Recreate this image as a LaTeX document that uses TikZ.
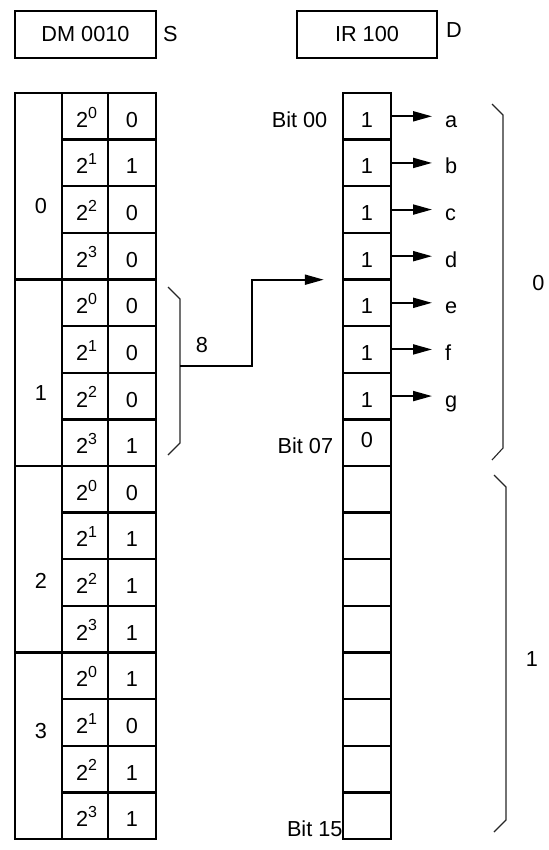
\documentclass[tikz,border=0pt]{standalone}
\usepackage{fontspec}
\setmainfont{Liberation Sans}
\usetikzlibrary{arrows.meta}
\newcommand\pw[1]{2\raisebox{9.2pt}{\fontsize{16}{16}\selectfont #1}}
\begin{document}
\begin{tikzpicture}[x=1pt,y=-1pt,
  every node/.style={font=\fontsize{21.7}{26}\selectfont, inner sep=0pt},
  topbox/.style={draw, line width=2pt, minimum height=47pt},
  cell/.style={draw, line width=2.4pt, minimum height=46.625pt, text height=22pt, text depth=0pt},
  grp/.style={draw, line width=2.4pt, minimum width=47pt, minimum height=186.5pt},
  brace/.style={line width=1.1pt, black!85},
  conn/.style={line width=2pt},
  arr/.style={line width=2pt, -{Triangle[length=19pt,width=10pt]}}]

\useasboundingbox (0,0) rectangle (548,850);

% top boxes
\node[topbox, minimum width=141pt] (dm) at (85.5,34.5) {DM 0010};
\node[anchor=base west] (s) at (163,41.7) {S};
\node[topbox, minimum width=140pt] (ir) at (367,34.5) {IR 100};
\node[anchor=base west] (d) at (446,37.7) {D};

% left table: exponent and value cells
\foreach \v [count=\i from 0] in {0,1,0,0,0,0,0,1,0,1,1,1,1,0,1,1} {
  \pgfmathtruncatemacro\e{mod(\i,4)}
  \node[cell, minimum width=46pt] (e\i) at (85, {93+46.625*(\i+0.5)}) {\hspace{3pt}\pw{\e}};
  \node[cell, minimum width=48pt] (v\i) at (132, {93+46.625*(\i+0.5)}) {\v};
}
% group cells
\foreach \g/\ly in {0/206,1/393,2/581,3/731} {
  \node[grp] (g\g) at (38.5, {93+186.5*(\g+0.5)}) {};
  \node[anchor=base] (gl\g) at (41, {\ly+7.8}) {\g};
}

% right column
\foreach \i in {0,...,6} {
  \node[cell, minimum width=48pt] (r\i) at (367, {93+46.625*(\i+0.5)}) {1};
}
\node[cell, minimum width=48pt, text height=10pt] (r7) at (367, {93+46.625*7.5}) {0};
\foreach \i in {8,...,15} {
  \node[cell, minimum width=48pt] (r\i) at (367, {93+46.625*(\i+0.5)}) {};
}

% outputs a..g
\foreach \l [count=\i from 0] in {a,b,c,d,e,f,g} {
  \node[anchor=base west] (o\i) at (445, {93+46.625*(\i+0.5)+11}) {\l};
  \draw[arr, shorten >=13pt] (r\i.east) -- (r\i.east -| o\i.west);
}

% bit labels
\node[anchor=base east] (b0) at (327.5,127.3) {Bit 00};
\node[anchor=base east] (b7) at (333.3,453.3) {Bit 07};
\node[anchor=base east] (b15) at (342.7,836) {Bit 15};

% middle brace and connector
\draw[brace] (168,287) -- (180,299) -- (180,443) -- (168,455);
\coordinate (bm) at (180,366);
\coordinate (k2) at (252,279.7);
\draw[arr, shorten >=18pt] (bm) -| (k2) -- (k2 -| r4.north west);
\node[anchor=base] (eight) at (202,352) {8};

% right braces
\draw[brace] (492,104) -- (503,115) -- (503,448) -- (492,460);
\node[anchor=base] (lab0) at (538.5,290) {0};
\draw[brace] (494,475) -- (506,487) -- (506,820) -- (494,832);
\node[anchor=base] (lab1) at (532,666) {1};
\end{tikzpicture}
\end{document}
